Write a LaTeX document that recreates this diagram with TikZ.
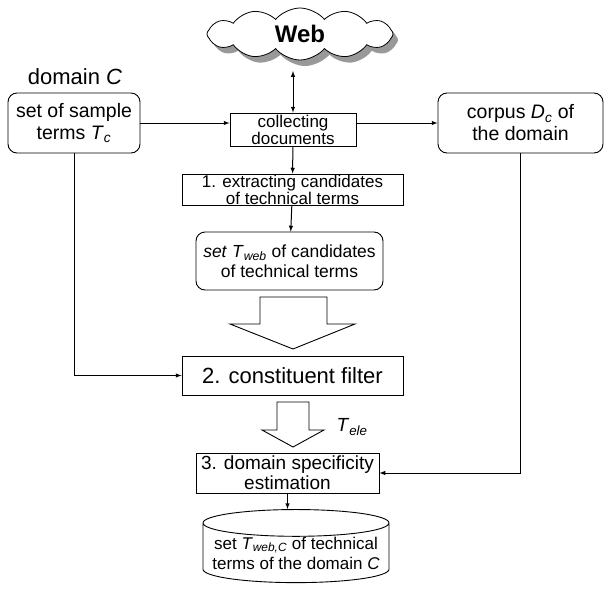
\documentclass[tikz,border=0pt]{standalone}
\usepackage{fontspec}
\setmainfont{Liberation Sans}
\usetikzlibrary{shapes.symbols,shapes.geometric,shadows}
\newcommand{\tsub}[2]{\textit{#1}\textsubscript{\textit{#2}}}
\newcommand{\fsz}[2]{\fontsize{#1}{#2}\selectfont}

\begin{document}
\begin{tikzpicture}[x=1pt, y=-1pt]
	\tikzstyle{rect} = [rectangle, draw=black, line width=0.9pt, align=center, inner sep=0pt]
	\tikzstyle{rrect} = [rect, rounded corners=9pt]
	\tikzstyle{edge} = [-latex, line width=1pt]
	\tikzstyle{hollow} = [draw=black, line width=0.9pt, fill=white]
	\useasboundingbox (0,0) rectangle (605,589);
	\node[cloud, draw=black, fill=white, line width=0.8pt, cloud puffs=12, cloud puff arc=100, aspect=3.5, minimum width=186pt, minimum height=52pt, inner sep=0pt, drop shadow={shadow xshift=5pt, shadow yshift=-6pt, fill=black!40, opacity=1}, font=\bfseries\fsz{24}{24}](web) at (300,34){Web};
	\coordinate (webfoot) at (293,71);
	\node[font=\fsz{22}{24}](domain) at (75,77){domain \textit{C}};
	\node[rrect, minimum width=132pt, minimum height=60pt, font=\fsz{19.5}{22}](sample) at (74,123){set of sample\\terms \tsub{T}{c}};
	\node[rect, minimum width=126pt, minimum height=33pt, font=\fsz{17}{17}](collect) at (293,129.5){collecting\\documents};
	\node[rrect, minimum width=165pt, minimum height=60pt, font=\fsz{19.5}{22}](corpus) at (520.5,123){corpus \tsub{D}{c} of\\the domain};
	\node[rect, minimum width=221pt, minimum height=31pt, font=\fsz{17}{17}](extract) at (292.5,189.5){1. extracting candidates\\of technical terms};
	\node[rrect, minimum width=187pt, minimum height=58pt, font=\fsz{17.5}{20}](tweb) at (289.5,261){\textit{set} \tsub{T}{web} of candidates\\of technical terms};
	\node[rect, minimum width=221pt, minimum height=39pt, font=\fsz{22}{24}](filter) at (292.5,375.5){2. constituent filter};
	\node[rect, minimum width=183pt, minimum height=40pt, font=\fsz{19}{20}](estimate) at (287.5,473){3. domain specificity\\estimation};
	\node[cylinder, shape border rotate=90, draw=black, line width=0.9pt, aspect=0.16, minimum width=186pt, minimum height=68pt, inner sep=0pt, align=center, font=\fsz{17}{20}](result) at (296,553){set \tsub{T}{web,C} of technical\\terms of the domain \textit{C}};
	% hollow arrows
	\draw[hollow] (260,297) -- (327,297) -- (327,324) -- (355,324) -- (293,349) -- (230,324) -- (260,324) -- cycle;
	\draw[hollow] (277,402) -- (309,402) -- (309,430) -- (324,430) -- (293,447) -- (262,430) -- (277,430) -- cycle;
	\node[anchor=west, font=\fsz{19}{20}](tele) at (333,427){\tsub{T}{ele}};
	% connectors
	\draw[latex-latex, line width=1pt] (collect.north) -- (webfoot);
	\draw[edge] (sample.east) -- (sample.east -| collect.west);
	\draw[edge] (collect.east |- corpus.west) -- (corpus.west);
	\draw[edge] (collect) -- (extract);
	\draw[edge] (extract) -- (tweb);
	\draw[edge] (sample) |- (filter);
	\draw[edge] (corpus) |- (estimate);
	\draw[edge] (estimate.south) -- (estimate.south |- result.north);
\end{tikzpicture}
\end{document}
